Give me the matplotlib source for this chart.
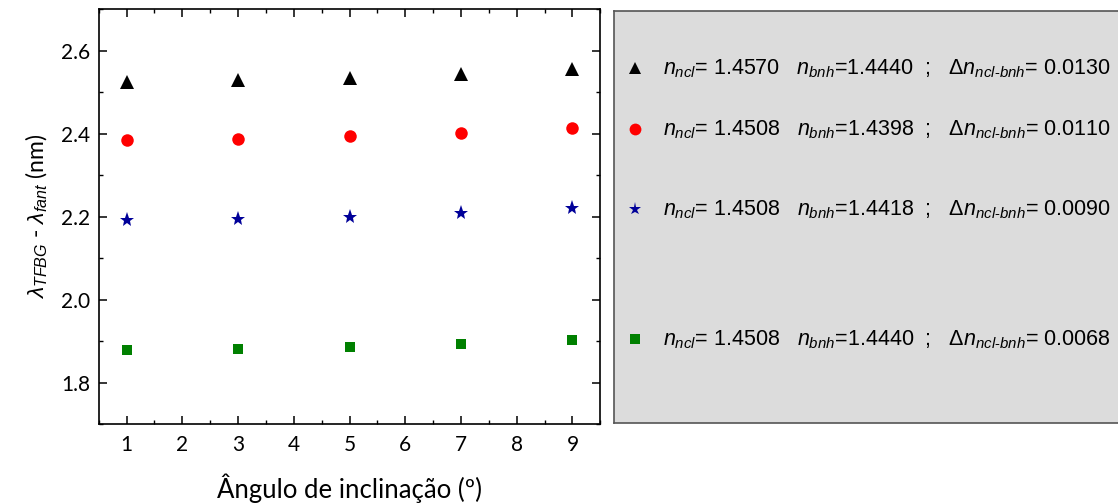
import numpy as np
import matplotlib
matplotlib.use("Agg")
import matplotlib.pyplot as plt
from matplotlib.ticker import MultipleLocator

plt.rcParams['font.family'] = ['Lato', 'DejaVu Sans']
plt.rcParams['mathtext.fontset'] = 'custom'
plt.rcParams['mathtext.rm'] = 'Liberation Sans'
plt.rcParams['mathtext.it'] = 'Liberation Sans:italic'
plt.rcParams['mathtext.default'] = 'it'

angles = [1, 3, 5, 7, 9]
y_tri = [2.525, 2.529, 2.535, 2.545, 2.557]
y_circ = [2.385, 2.388, 2.394, 2.403, 2.413]
y_star = [2.192, 2.194, 2.200, 2.210, 2.220]
y_sq = [1.878, 1.880, 1.886, 1.892, 1.903]

n_ncl = ["1.4570", "1.4508", "1.4508", "1.4508"]
n_bnh = ["1.4440", "1.4398", "1.4418", "1.4440"]
dn = ["0.0130", "0.0110", "0.0090", "0.0068"]

styles = [
    dict(marker="^", color="black", ms=9.5),
    dict(marker="o", color="red", ms=9),
    dict(marker="*", color="#000099", ms=11),
    dict(marker="s", color="#008000", ms=7.5),
]
series = [y_tri, y_circ, y_star, y_sq]

fig = plt.figure(figsize=(11.18, 5.04), dpi=100)
ax = fig.add_axes([0.0883, 0.1587, 0.4487, 0.8226])

for ys, st in zip(series, styles):
    ax.plot(angles, ys, linestyle="none", marker=st["marker"], color=st["color"],
            markersize=st["ms"], markeredgewidth=0)

ax.set_xlim(0.5, 9.5)
ax.set_ylim(1.7, 2.7)
ax.xaxis.set_major_locator(MultipleLocator(1))
ax.xaxis.set_minor_locator(MultipleLocator(0.5))
ax.yaxis.set_major_locator(MultipleLocator(0.2))
ax.yaxis.set_minor_locator(MultipleLocator(0.1))
ax.tick_params(which="both", direction="in", top=True, right=True, labelsize=15)
ax.tick_params(which="major", length=6, width=1.1)
ax.tick_params(which="minor", length=3, width=1.0)
ax.tick_params(axis="x", pad=8)
ax.tick_params(axis="y", pad=6)
for sp in ax.spines.values():
    sp.set_linewidth(1.2)

ax.set_xlabel("Ângulo de inclinação (º)", fontsize=18.5, labelpad=13)
ax.set_ylabel(r"$\lambda_{TFBG}$ - $\lambda_{fant}$ (nm)", fontsize=16.5, labelpad=8)

# painel da legenda
lg = fig.add_axes([0.5492, 0.1613, 0.4560, 0.8175])
lg.set_facecolor("#dcdcdc")
lg.set_xlim(0, 1)
lg.set_ylim(0, 1)
lg.set_xticks([])
lg.set_yticks([])
for sp in lg.spines.values():
    sp.set_color("#555555")
    sp.set_linewidth(1.2)

row_y = [0.860, 0.712, 0.518, 0.202]
leg_ms = [8, 8.5, 9.5, 6.5]
for i, st in enumerate(styles):
    lg.plot([0.042], [row_y[i]], linestyle="none", marker=st["marker"], color=st["color"],
            markersize=leg_ms[i], markeredgewidth=0)
    label = (r"$n_{ncl}$" + "= " + n_ncl[i] + "   " + r"$n_{bnh}$" + "=" + n_bnh[i]
             + "  ;   " + r"$\Delta n_{ncl\mathrm{\text{-}}bnh}$" + "= " + dn[i])
    lg.text(0.097, row_y[i], label, fontsize=15.5, va="center", ha="left",
            family=["Liberation Sans", "DejaVu Sans"])

fig.savefig("out.png", dpi=100)
